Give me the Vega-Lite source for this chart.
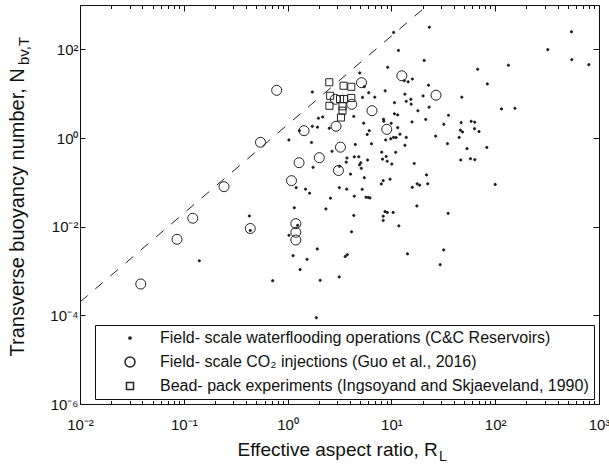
{
  "$schema": "https://vega.github.io/schema/vega-lite/v6.json",
  "width": 519,
  "height": 399,
  "autosize": {"type": "none"},
  "padding": {"left": 80, "top": 5, "right": 10, "bottom": 62},
  "background": "white",
  "config": {
    "view": {"stroke": "#111", "strokeWidth": 1},
    "axis": {"domain": false, "grid": false, "tickColor": "#111", "tickWidth": 1, "labelColor": "#111", "labelFont": "Liberation Sans", "labelFontSize": 15, "titleFont": "Liberation Sans", "titleFontWeight": "normal", "titleColor": "#111", "labelOverlap": false, "labelFlush": false, "labelBound": false}
  },
  "datasets": {
    "line": [{"x": 0.01, "y": 0.0002}, {"x": 22.36, "y": 1000}],
    "pts": [
      {"g":"W","x":10.5,"y":240},{"g":"W","x":23.2,"y":316},{"g":"W","x":11.7,"y":94.3},{"g":"W","x":20.7,"y":56.1},{"g":"W","x":9.21,"y":39.4},
      {"g":"W","x":4.96,"y":29.3},{"g":"W","x":67.8,"y":35.5},{"g":"W","x":134,"y":43.7},{"g":"W","x":321,"y":98.2},{"g":"W","x":543,"y":249},
      {"g":"W","x":547,"y":58.5},{"g":"W","x":798,"y":45.1},{"g":"W","x":83.9,"y":16.6},{"g":"W","x":47.7,"y":8.33},{"g":"W","x":115,"y":4.52},
      {"g":"W","x":155,"y":4.68},{"g":"W","x":13.3,"y":19.6},{"g":"W","x":14.5,"y":18.5},{"g":"W","x":15.9,"y":21.4},{"g":"W","x":22.8,"y":15.5},
      {"g":"W","x":8.71,"y":11.6},{"g":"W","x":1.73,"y":10.9},{"g":"W","x":5.48,"y":14.4},{"g":"W","x":6.04,"y":10.5},{"g":"W","x":5.27,"y":8.2},
      {"g":"W","x":6.92,"y":8.33},{"g":"W","x":13.5,"y":9.74},{"g":"W","x":15.4,"y":7.47},{"g":"W","x":13.9,"y":6.73},{"g":"W","x":15.5,"y":5.79},
      {"g":"W","x":20.2,"y":8.87},{"g":"W","x":10.7,"y":6.26},{"g":"W","x":23.1,"y":4.96},{"g":"W","x":18.0,"y":4.11},{"g":"W","x":4.34,"y":3.07},
      {"g":"W","x":10.7,"y":3.52},{"g":"W","x":11.5,"y":3.31},{"g":"W","x":35.5,"y":3.26},{"g":"W","x":2.18,"y":2.98},{"g":"W","x":1.98,"y":2.79},
      {"g":"W","x":21.4,"y":2.62},{"g":"W","x":8.39,"y":2.64},{"g":"W","x":8.45,"y":2.39},{"g":"W","x":15.8,"y":2.3},{"g":"W","x":5.41,"y":2.16},
      {"g":"W","x":32.0,"y":2.04},{"g":"W","x":47.0,"y":2.22},{"g":"W","x":58.7,"y":2.38},{"g":"W","x":63.5,"y":2.27},{"g":"W","x":1.73,"y":1.84},
      {"g":"W","x":1.94,"y":1.75},{"g":"W","x":11.5,"y":1.71},{"g":"W","x":63.2,"y":1.62},{"g":"W","x":69.8,"y":1.4},{"g":"W","x":46.1,"y":1.5},
      {"g":"W","x":48.4,"y":1.37},{"g":"W","x":6.12,"y":1.46},{"g":"W","x":5.85,"y":1.2},{"g":"W","x":9.96,"y":2.15},{"g":"W","x":8.81,"y":0.902},
      {"g":"W","x":9.85,"y":0.96},{"g":"W","x":10.5,"y":1.03},{"g":"W","x":11.1,"y":1.02},{"g":"W","x":12.1,"y":1.22},{"g":"W","x":13.9,"y":1.03},
      {"g":"W","x":26.7,"y":1.1},{"g":"W","x":45.0,"y":1.03},{"g":"W","x":4.49,"y":0.714},{"g":"W","x":6.43,"y":0.741},{"g":"W","x":13.5,"y":0.685},
      {"g":"W","x":34.7,"y":0.745},{"g":"W","x":1.7,"y":0.792},{"g":"W","x":83.0,"y":0.611},{"g":"W","x":53.5,"y":0.574},{"g":"W","x":2.68,"y":0.502},
      {"g":"W","x":8.07,"y":0.479},{"g":"W","x":11.0,"y":0.476},{"g":"W","x":4.39,"y":0.377},{"g":"W","x":4.85,"y":0.377},{"g":"W","x":3.73,"y":0.354},
      {"g":"W","x":8.91,"y":0.383},{"g":"W","x":8.21,"y":0.333},{"g":"W","x":9.11,"y":0.299},{"g":"W","x":10.1,"y":0.259},{"g":"W","x":5.07,"y":0.276},
      {"g":"W","x":4.93,"y":0.249},{"g":"W","x":5.13,"y":0.207},{"g":"W","x":3.67,"y":0.285},{"g":"W","x":5.89,"y":0.319},{"g":"W","x":16.6,"y":0.266},
      {"g":"W","x":46.6,"y":0.319},{"g":"W","x":57.8,"y":0.341},{"g":"W","x":63.6,"y":0.324},{"g":"W","x":1.76,"y":0.218},{"g":"W","x":3.16,"y":0.23},
      {"g":"W","x":5.48,"y":0.127},{"g":"W","x":4.04,"y":0.153},{"g":"W","x":21.8,"y":0.147},{"g":"W","x":9.7,"y":0.118},{"g":"W","x":8.34,"y":0.109},
      {"g":"W","x":7.99,"y":0.0918},{"g":"W","x":17.7,"y":0.0927},{"g":"W","x":18.7,"y":0.0863},{"g":"W","x":15.9,"y":0.0773},{"g":"W","x":22.4,"y":0.0927},
      {"g":"W","x":1.49,"y":0.07},{"g":"W","x":1.63,"y":0.0569},{"g":"W","x":3.15,"y":0.0757},{"g":"W","x":3.71,"y":0.07},{"g":"W","x":5.23,"y":0.0697},
      {"g":"W","x":4.39,"y":0.0487},{"g":"W","x":5.69,"y":0.0462},{"g":"W","x":5.99,"y":0.0455},{"g":"W","x":6.22,"y":0.0444},{"g":"W","x":2.59,"y":0.0439},
      {"g":"W","x":100,"y":0.0894},{"g":"W","x":2.34,"y":0.0251},{"g":"W","x":17.6,"y":0.0293},{"g":"W","x":35.2,"y":0.02},{"g":"W","x":4.34,"y":0.0179},
      {"g":"W","x":8.68,"y":0.0218},{"g":"W","x":9.13,"y":0.0209},{"g":"W","x":10.4,"y":0.0209},{"g":"W","x":8.34,"y":0.0172},{"g":"W","x":8.34,"y":0.0138},
      {"g":"W","x":11.8,"y":0.0104},{"g":"W","x":4.13,"y":0.00766},{"g":"W","x":1.93,"y":0.00314},{"g":"W","x":1.54,"y":0.00184},{"g":"W","x":1.32,"y":0.00108},
      {"g":"W","x":3.59,"y":0.00212},{"g":"W","x":3.76,"y":0.00233},{"g":"W","x":14.3,"y":0.00244},{"g":"W","x":31.9,"y":0.00298},{"g":"W","x":29.5,"y":0.00139},
      {"g":"W","x":2.06,"y":0.000617},{"g":"W","x":3.14,"y":0.000733},{"g":"W","x":1.89,"y":0.0000885},{"g":"W","x":1.25,"y":0.0107},{"g":"W","x":1.03,"y":0.00639},
      {"g":"W","x":1.13,"y":0.00221},{"g":"W","x":0.718,"y":0.000604},{"g":"W","x":0.141,"y":0.0017},{"g":"W","x":0.428,"y":0.0174},{"g":"W","x":0.437,"y":0.0082},
      {"g":"W","x":1.03,"y":0.902},{"g":"W","x":1.3,"y":1.46},{"g":"W","x":2.52,"y":1.66},{"g":"W","x":1.16,"y":0.0267},{"g":"W","x":1.21,"y":0.0757},
      {"g":"C","x":0.0385,"y":0.000509},{"g":"C","x":0.086,"y":0.00519},{"g":"C","x":0.122,"y":0.0155},{"g":"C","x":0.244,"y":0.0798},{"g":"C","x":0.437,"y":0.0091},
      {"g":"C","x":0.548,"y":0.8},{"g":"C","x":0.785,"y":11.9},{"g":"C","x":1.09,"y":0.109},{"g":"C","x":1.2,"y":0.0117},{"g":"C","x":1.2,"y":0.00747},
      {"g":"C","x":1.2,"y":0.005},{"g":"C","x":1.29,"y":0.277},{"g":"C","x":1.44,"y":1.46},{"g":"C","x":2.02,"y":0.36},{"g":"C","x":2.93,"y":1.84},
      {"g":"C","x":2.88,"y":7.47},{"g":"C","x":3.09,"y":0.185},{"g":"C","x":3.23,"y":0.621},{"g":"C","x":4.15,"y":5.76},{"g":"C","x":5.15,"y":17.7},
      {"g":"C","x":6.5,"y":4.13},{"g":"C","x":9.02,"y":1.57},{"g":"C","x":12.6,"y":25.3},{"g":"C","x":26.9,"y":9.25},
      {"g":"B","x":2.52,"y":18.1},{"g":"B","x":3.46,"y":15.1},{"g":"B","x":4.11,"y":14.3},{"g":"B","x":2.57,"y":8.96},{"g":"B","x":2.53,"y":5.33},
      {"g":"B","x":3.2,"y":7.59},{"g":"B","x":3.49,"y":7.59},{"g":"B","x":4.11,"y":8.0},{"g":"B","x":3.38,"y":5.19},{"g":"B","x":3.38,"y":4.13},
      {"g":"B","x":3.27,"y":2.9}
    ]
  },
  "layer": [
    {
      "data": {"name": "pts"},
      "mark": {"type": "point", "filled": true, "opacity": 1, "stroke": "#222", "strokeWidth": 1},
      "encoding": {
        "x": {"field": "x", "type": "quantitative",
          "scale": {"type": "log", "domain": [0.01, 1000], "nice": false},
          "axis": {"orient": "bottom",
            "values": [0.01,0.02,0.03,0.04,0.05,0.06,0.07,0.08,0.09,0.1,0.2,0.3,0.4,0.5,0.6,0.7,0.8,0.9,1,2,3,4,5,6,7,8,9,10,20,30,40,50,60,70,80,90,100,200,300,400,500,600,700,800,900,1000],
            "labelExpr": "abs(log(datum.value)/LN10 - round(log(datum.value)/LN10)) < 0.001 ? ['10⁻⁶','10⁻⁵','10⁻⁴','10⁻³','10⁻²','10⁻¹','10⁰','10¹','10²','10³'][round(log(datum.value)/LN10)+6] : ''",
            "tickSize": {"condition": {"test": "abs(log(datum.value)/LN10 - round(log(datum.value)/LN10)) < 0.001", "value": -6}, "value": -3.5},
            "labelPadding": 19,
            "title": "Effective aspect ratio, R", "titleFontSize": 19, "titleX": 157, "titleY": 51, "titleAlign": "left", "titleBaseline": "alphabetic", "titleAngle": 0}},
        "y": {"field": "y", "type": "quantitative",
          "scale": {"type": "log", "domain": [0.000001, 1000], "nice": false},
          "axis": {"orient": "left",
            "values": [0.000001, 0.0001, 0.01, 1, 100],
            "labelExpr": "['10⁻⁶','10⁻⁵','10⁻⁴','10⁻³','10⁻²','10⁻¹','10⁰','10¹','10²','10³'][round(log(datum.value)/LN10)+6]",
            "tickSize": -5, "labelPadding": 7,
            "title": "Transverse buoyancy number, N", "titleFontSize": 20, "titleX": -57, "titleY": 351, "titleAlign": "left", "titleBaseline": "alphabetic", "titleAngle": 270}},
        "shape": {"field": "g", "type": "nominal", "scale": {"domain": ["W", "C", "B"], "range": ["circle", "circle", "square"]},
          "legend": {"orient": "none", "legendX": 15, "legendY": 320, "title": null, "strokeColor": "#111", "fillColor": "white", "padding": 5, "rowPadding": 8, "symbolOffset": 22, "labelOffset": 22, "labelFont": "Liberation Sans", "labelFontSize": 16, "labelColor": "#111", "labelLimit": 1000,
            "encode": {"symbols": {"update": {"stroke": {"value": "#222"}, "strokeWidth": {"value": 1}}}},
            "labelExpr": "datum.label == 'W' ? 'Field- scale waterflooding operations (C&C Reservoirs)' : datum.label == 'C' ? 'Field- scale CO₂ injections (Guo et al., 2016)' : 'Bead- pack experiments (Ingsoyand and Skjaeveland, 1990)'"}},
        "size": {"field": "g", "type": "nominal", "scale": {"type": "ordinal", "domain": ["W", "C", "B"], "range": [5, 100, 50]},
          "legend": {"orient": "none", "legendX": 15, "legendY": 320, "title": null, "strokeColor": "#111", "fillColor": "white", "padding": 5, "rowPadding": 8, "symbolOffset": 22, "labelOffset": 22, "labelFont": "Liberation Sans", "labelFontSize": 16, "labelColor": "#111", "labelLimit": 1000,
            "encode": {"symbols": {"update": {"stroke": {"value": "#222"}, "strokeWidth": {"value": 1}}}},
            "labelExpr": "datum.label == 'W' ? 'Field- scale waterflooding operations (C&C Reservoirs)' : datum.label == 'C' ? 'Field- scale CO₂ injections (Guo et al., 2016)' : 'Bead- pack experiments (Ingsoyand and Skjaeveland, 1990)'"}},
        "fill": {"field": "g", "type": "nominal", "scale": {"domain": ["W", "C", "B"], "range": ["#111", "transparent", "transparent"]},
          "legend": {"orient": "none", "legendX": 15, "legendY": 320, "title": null, "strokeColor": "#111", "fillColor": "white", "padding": 5, "rowPadding": 8, "symbolOffset": 22, "labelOffset": 22, "labelFont": "Liberation Sans", "labelFontSize": 16, "labelColor": "#111", "labelLimit": 1000,
            "encode": {"symbols": {"update": {"stroke": {"value": "#222"}, "strokeWidth": {"value": 1}}}},
            "labelExpr": "datum.label == 'W' ? 'Field- scale waterflooding operations (C&C Reservoirs)' : datum.label == 'C' ? 'Field- scale CO₂ injections (Guo et al., 2016)' : 'Bead- pack experiments (Ingsoyand and Skjaeveland, 1990)'"}}
      }
    },
    {
      "data": {"name": "line"},
      "mark": {"type": "line", "strokeDash": [10, 10], "color": "#222", "strokeWidth": 1, "clip": true},
      "encoding": {
        "x": {"field": "x", "type": "quantitative",
          "scale": {"type": "log", "domain": [0.01, 1000], "nice": false},
          "axis": {"orient": "top",
            "values": [0.01,0.02,0.03,0.04,0.05,0.06,0.07,0.08,0.09,0.1,0.2,0.3,0.4,0.5,0.6,0.7,0.8,0.9,1,2,3,4,5,6,7,8,9,10,20,30,40,50,60,70,80,90,100,200,300,400,500,600,700,800,900,1000],
            "labels": false,
            "tickSize": {"condition": {"test": "abs(log(datum.value)/LN10 - round(log(datum.value)/LN10)) < 0.001", "value": -6}, "value": -3.5},
            "title": "L", "titleFontSize": 14, "titleX": 358.5, "titleY": 455, "titleAlign": "left", "titleBaseline": "alphabetic", "titleAngle": 0}},
        "y": {"field": "y", "type": "quantitative",
          "scale": {"type": "log", "domain": [0.000001, 1000], "nice": false},
          "axis": {"orient": "right",
            "values": [0.000001, 0.0001, 0.01, 1, 100],
            "labels": false, "tickSize": -6,
            "title": "bv,T", "titleFontSize": 15, "titleX": -571, "titleY": 59.5, "titleAlign": "left", "titleBaseline": "alphabetic", "titleAngle": 270}}
      }
    }
  ],
  "resolve": {"axis": {"x": "independent", "y": "independent"}}
}
